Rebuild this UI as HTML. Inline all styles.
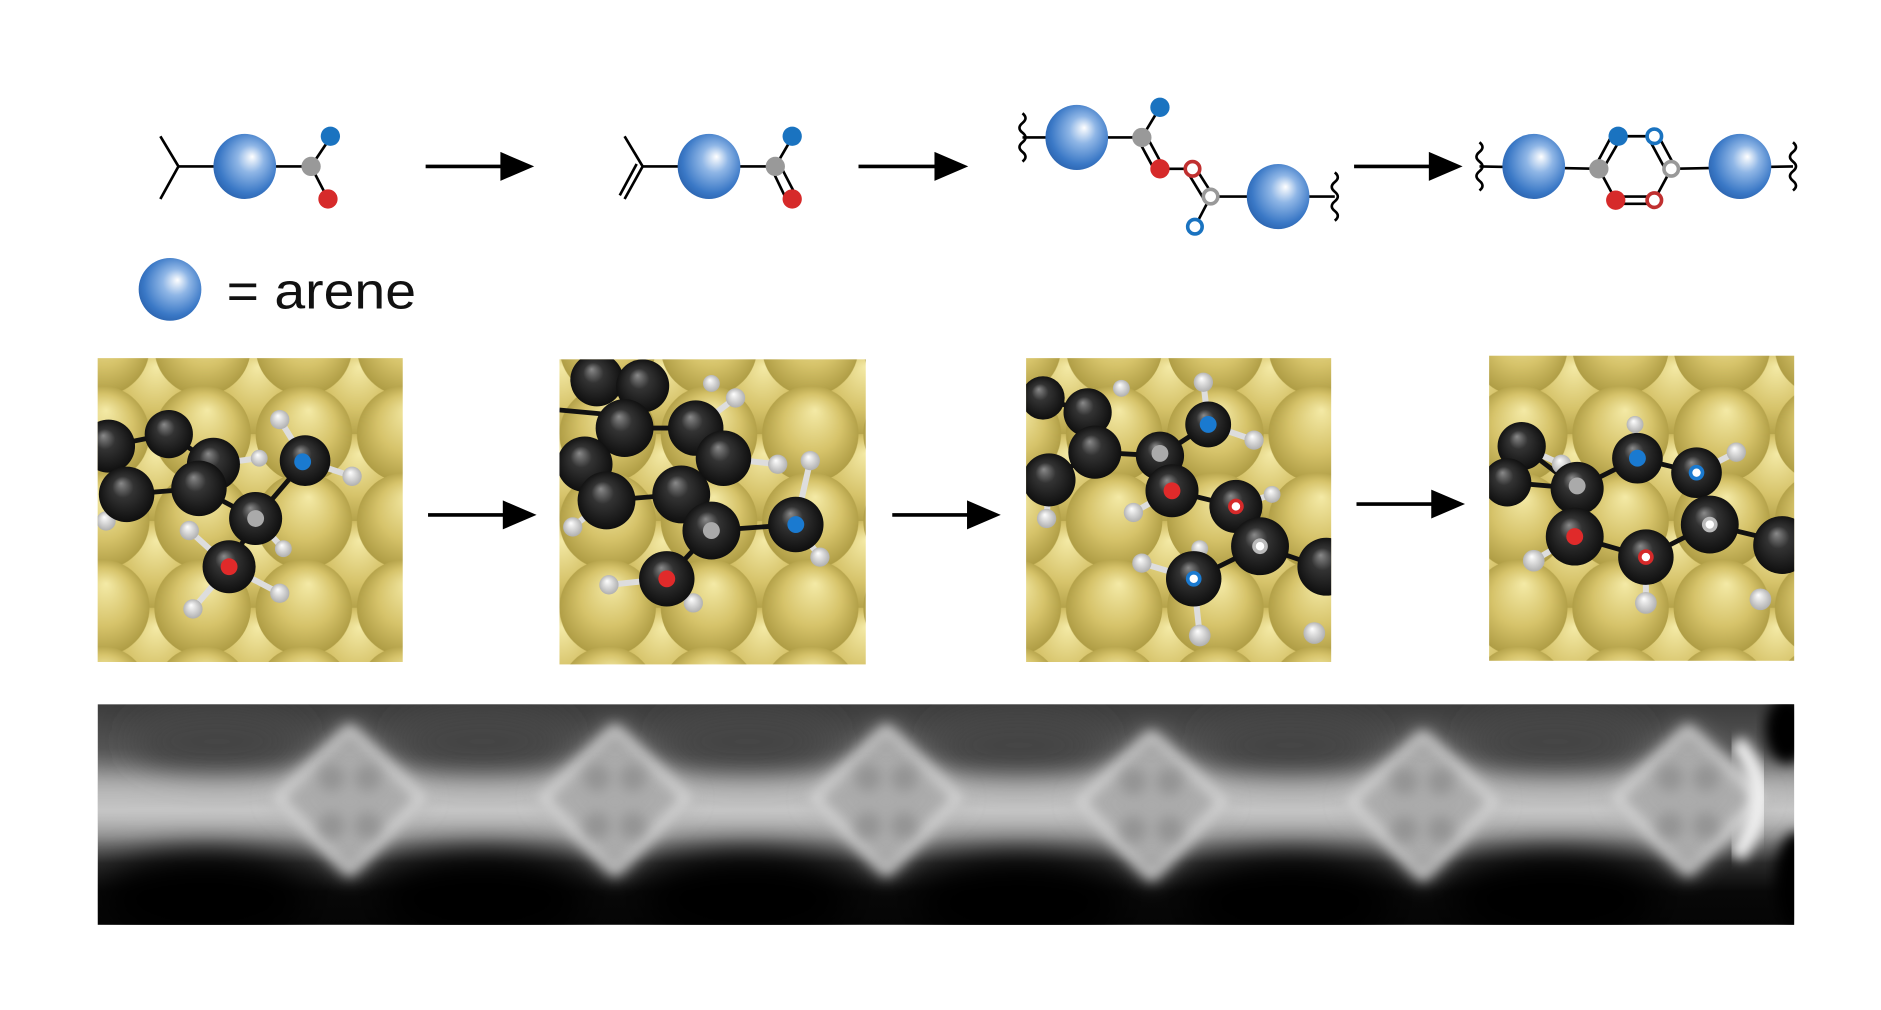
<!DOCTYPE html>
<html><head><meta charset="utf-8"><style>
html,body{margin:0;padding:0;background:#fff;}
svg{display:block;}
</style></head><body>
<svg width="1881" height="1010" viewBox="0 0 1560 837.6" preserveAspectRatio="none" xmlns="http://www.w3.org/2000/svg">
<defs>
<radialGradient id="ar" cx="0.55" cy="0.45" r="0.6" fx="0.62" fy="0.35">
<stop offset="0" stop-color="#ffffff"/><stop offset="0.35" stop-color="#8fb6e6"/><stop offset="0.8" stop-color="#3a78c6"/><stop offset="1" stop-color="#2a62ad"/></radialGradient>
<radialGradient id="bk" cx="0.5" cy="0.5" r="0.55" fx="0.4" fy="0.3">
<stop offset="0" stop-color="#8a8a8a"/><stop offset="0.35" stop-color="#333"/><stop offset="1" stop-color="#0a0a0a"/></radialGradient>
<radialGradient id="hh" cx="0.5" cy="0.5" r="0.55" fx="0.4" fy="0.3">
<stop offset="0" stop-color="#fff"/><stop offset="1" stop-color="#aaa"/></radialGradient>
<radialGradient id="au" cx="0.5" cy="0.5" r="0.55" fx="0.55" fy="0.25">
<stop offset="0" stop-color="#f4eaa6"/><stop offset="0.55" stop-color="#d6c36a"/><stop offset="1" stop-color="#a8963e"/></radialGradient>
<pattern id="gold" width="84" height="72" patternUnits="userSpaceOnUse">
<rect width="84" height="72" fill="#b09e48"/>
<circle cx="42" cy="36" r="40" fill="url(#au)"/>
<circle cx="0" cy="0" r="40" fill="url(#au)"/><circle cx="84" cy="0" r="40" fill="url(#au)"/>
<circle cx="0" cy="72" r="40" fill="url(#au)"/><circle cx="84" cy="72" r="40" fill="url(#au)"/>
</pattern>
<linearGradient id="stm" x1="0" y1="0" x2="0" y2="1">
<stop offset="0" stop-color="#3c3c3c"/><stop offset="0.2" stop-color="#555"/><stop offset="0.33" stop-color="#8a8a8a"/><stop offset="0.48" stop-color="#c4c4c4"/><stop offset="0.6" stop-color="#8a8a8a"/><stop offset="0.72" stop-color="#2a2a2a"/><stop offset="0.85" stop-color="#080808"/><stop offset="1" stop-color="#050505"/></linearGradient>
<filter id="bl" x="-20%" y="-50%" width="140%" height="200%"><feGaussianBlur stdDeviation="9"/></filter>
<filter id="bl2" x="-20%" y="-50%" width="140%" height="200%"><feGaussianBlur stdDeviation="5"/></filter>
<filter id="bl3" x="-30%" y="-80%" width="160%" height="260%"><feGaussianBlur stdDeviation="14"/></filter>
<clipPath id="stmc"><rect x="81" y="584" width="1407" height="183"/></clipPath>
<clipPath id="c1"><rect x="81" y="297" width="253" height="252"/></clipPath>
<clipPath id="c2"><rect x="464" y="298" width="254" height="253"/></clipPath>
<clipPath id="c3"><rect x="851" y="297" width="253" height="252"/></clipPath>
<clipPath id="c4"><rect x="1235" y="295" width="253" height="253"/></clipPath>
</defs>

<g stroke="#000" stroke-width="3" fill="#000">
<line x1="353" y1="138" x2="420" y2="138"/><path d="M415,126 L443,138 L415,150 Z" stroke="none"/>
<line x1="712" y1="138" x2="780" y2="138"/><path d="M775,126 L803,138 L775,150 Z" stroke="none"/>
<line x1="1123" y1="138" x2="1190" y2="138"/><path d="M1185,126 L1213,138 L1185,150 Z" stroke="none"/>
<line x1="355" y1="427" x2="422" y2="427"/><path d="M417,415 L445,427 L417,439 Z" stroke="none"/>
<line x1="740" y1="427" x2="807" y2="427"/><path d="M802,415 L830,427 L802,439 Z" stroke="none"/>
<line x1="1125" y1="418" x2="1192" y2="418"/><path d="M1187,406 L1215,418 L1187,430 Z" stroke="none"/>
</g>

<g stroke="#000" stroke-width="2.2" fill="none">
<polyline points="133,113 148,138 133,165"/><line x1="148" y1="138" x2="258" y2="138"/>
<line x1="258" y1="138" x2="274" y2="114"/><line x1="258" y1="138" x2="272" y2="165"/>
</g>
<ellipse cx="203" cy="138" rx="26" ry="27" fill="url(#ar)"/>
<circle cx="258" cy="138" r="8" fill="#999"/><circle cx="274" cy="113" r="8" fill="#1a73c0"/><circle cx="272" cy="165" r="8" fill="#d62a2a"/>

<g stroke="#000" stroke-width="2.2" fill="none">
<polyline points="518,113 533,138 518,165"/><line x1="528" y1="136" x2="514" y2="162"/>
<line x1="533" y1="138" x2="643" y2="138"/>
<line x1="643" y1="138" x2="657" y2="114"/><line x1="640" y1="140" x2="652" y2="165"/><line x1="647" y1="137" x2="660" y2="162"/>
</g>
<ellipse cx="588" cy="138" rx="26" ry="27" fill="url(#ar)"/>
<circle cx="643" cy="138" r="8" fill="#999"/><circle cx="657" cy="113" r="8" fill="#1a73c0"/><circle cx="657" cy="165" r="8" fill="#d62a2a"/>

<g stroke="#000" stroke-width="2.2" fill="none">
<path d="M848,94 q5,4 0,8 q-5,4 0,8 q5,4 0,8 q-5,4 0,8 q5,4 0,8"/>
<line x1="848" y1="114" x2="947" y2="114"/>
<line x1="947" y1="114" x2="962" y2="89"/><line x1="944" y1="116" x2="957" y2="140"/><line x1="951" y1="113" x2="964" y2="137"/>
<line x1="962" y1="140" x2="989" y2="140"/>
<line x1="985" y1="143" x2="999" y2="166"/><line x1="992" y1="140" x2="1006" y2="162"/>
<line x1="1004" y1="163" x2="1107" y2="163"/><line x1="1004" y1="163" x2="991" y2="188"/>
<path d="M1107,143 q5,4 0,8 q-5,4 0,8 q5,4 0,8 q-5,4 0,8 q5,4 0,8"/>
</g>
<ellipse cx="893" cy="114" rx="26" ry="27" fill="url(#ar)"/>
<ellipse cx="1060" cy="163" rx="26" ry="27" fill="url(#ar)"/>
<circle cx="947" cy="114" r="8" fill="#999"/><circle cx="962" cy="89" r="8" fill="#1a73c0"/><circle cx="962" cy="140" r="8" fill="#d62a2a"/>
<circle cx="989" cy="140" r="6" fill="#fff" stroke="#c03030" stroke-width="3"/>
<circle cx="1004" cy="163" r="6" fill="#fff" stroke="#999" stroke-width="3"/>
<circle cx="991" cy="188" r="6" fill="#fff" stroke="#1a73c0" stroke-width="3"/>

<g stroke="#000" stroke-width="2.2" fill="none">
<path d="M1227,118 q5,4 0,8 q-5,4 0,8 q5,4 0,8 q-5,4 0,8 q5,4 0,8"/>
<line x1="1227" y1="138" x2="1326" y2="140"/>
<line x1="1323" y1="138" x2="1337" y2="112"/><line x1="1329" y1="141" x2="1344" y2="115"/>
<line x1="1342" y1="113" x2="1372" y2="113"/>
<line x1="1368" y1="116" x2="1382" y2="142"/><line x1="1375" y1="112" x2="1389" y2="138"/>
<line x1="1326" y1="140" x2="1340" y2="166"/>
<line x1="1340" y1="163" x2="1372" y2="163"/><line x1="1340" y1="169" x2="1372" y2="169"/>
<line x1="1372" y1="166" x2="1386" y2="140"/>
<line x1="1386" y1="140" x2="1487" y2="138"/>
<path d="M1487,118 q5,4 0,8 q-5,4 0,8 q5,4 0,8 q-5,4 0,8 q5,4 0,8"/>
</g>
<ellipse cx="1272" cy="138" rx="26" ry="27" fill="url(#ar)"/>
<ellipse cx="1443" cy="138" rx="26" ry="27" fill="url(#ar)"/>
<circle cx="1326" cy="140" r="8" fill="#999"/><circle cx="1342" cy="113" r="8" fill="#1a73c0"/><circle cx="1340" cy="166" r="8" fill="#d62a2a"/>
<circle cx="1372" cy="113" r="6" fill="#fff" stroke="#1a73c0" stroke-width="3"/>
<circle cx="1386" cy="140" r="6" fill="#fff" stroke="#999" stroke-width="3"/>
<circle cx="1372" cy="166" r="6" fill="#fff" stroke="#c03030" stroke-width="3"/>

<ellipse cx="141" cy="240" rx="26" ry="26" fill="url(#ar)"/>
<text x="188" y="256" font-family="Liberation Sans, sans-serif" font-size="42" fill="#111" textLength="157" lengthAdjust="spacingAndGlyphs">= arene</text>

<rect x="81" y="297" width="253" height="252" fill="url(#gold)"/>
<rect x="464" y="298" width="254" height="253" fill="url(#gold)"/>
<rect x="851" y="297" width="253" height="252" fill="url(#gold)"/>
<rect x="1235" y="295" width="253" height="253" fill="url(#gold)"/>

<g clip-path="url(#c1)">
<g stroke="#111" stroke-width="4">
<line x1="90" y1="370" x2="140" y2="360"/><line x1="140" y1="360" x2="177" y2="385"/><line x1="177" y1="385" x2="165" y2="405"/><line x1="105" y1="410" x2="165" y2="405"/><line x1="90" y1="370" x2="105" y2="410"/><line x1="165" y1="405" x2="212" y2="430"/><line x1="212" y1="430" x2="190" y2="470"/><line x1="212" y1="430" x2="253" y2="382"/>
</g>
<g stroke="#ddd" stroke-width="5">
<line x1="253" y1="382" x2="232" y2="348"/><line x1="253" y1="382" x2="292" y2="395"/><line x1="177" y1="385" x2="215" y2="380"/><line x1="190" y1="470" x2="160" y2="505"/><line x1="190" y1="470" x2="232" y2="492"/><line x1="190" y1="470" x2="157" y2="440"/><line x1="212" y1="430" x2="235" y2="455"/>
</g>
<g fill="url(#hh)"><circle cx="232" cy="348" r="8"/><circle cx="292" cy="395" r="8"/><circle cx="88" cy="432" r="8"/><circle cx="157" cy="440" r="8"/><circle cx="235" cy="455" r="7"/><circle cx="160" cy="505" r="8"/><circle cx="232" cy="492" r="8"/><circle cx="215" cy="380" r="7"/><circle cx="262" cy="370" r="6"/></g>
<g fill="url(#bk)"><circle cx="90" cy="370" r="22"/><circle cx="140" cy="360" r="20"/><circle cx="105" cy="410" r="23"/><circle cx="177" cy="385" r="22"/><circle cx="165" cy="405" r="23"/><circle cx="212" cy="430" r="22"/><circle cx="190" cy="470" r="22"/><circle cx="253" cy="382" r="21"/></g>
<circle cx="212" cy="430" r="7" fill="#aaa"/><circle cx="190" cy="470" r="7" fill="#e02a2a"/><circle cx="251" cy="383" r="7" fill="#1a7ad0"/>
</g>

<g clip-path="url(#c2)">
<g stroke="#111" stroke-width="4">
<line x1="503" y1="415" x2="565" y2="410"/><line x1="565" y1="410" x2="590" y2="440"/><line x1="590" y1="440" x2="660" y2="435"/><line x1="590" y1="440" x2="553" y2="480"/><line x1="565" y1="410" x2="600" y2="380"/><line x1="485" y1="385" x2="503" y2="415"/><line x1="518" y1="355" x2="577" y2="355"/><line x1="464" y1="340" x2="518" y2="345"/>
</g>
<g stroke="#ddd" stroke-width="5">
<line x1="600" y1="380" x2="645" y2="385"/><line x1="660" y1="435" x2="672" y2="382"/><line x1="660" y1="435" x2="680" y2="462"/><line x1="553" y1="480" x2="505" y2="485"/><line x1="553" y1="480" x2="575" y2="500"/><line x1="503" y1="415" x2="475" y2="437"/><line x1="577" y1="355" x2="610" y2="330"/>
</g>
<g fill="url(#hh)"><circle cx="610" cy="330" r="8"/><circle cx="645" cy="385" r="8"/><circle cx="672" cy="382" r="8"/><circle cx="475" cy="437" r="8"/><circle cx="505" cy="485" r="8"/><circle cx="575" cy="500" r="8"/><circle cx="680" cy="462" r="8"/><circle cx="590" cy="318" r="7"/></g>
<g fill="url(#bk)"><circle cx="495" cy="315" r="22"/><circle cx="533" cy="320" r="22"/><circle cx="518" cy="355" r="24"/><circle cx="577" cy="355" r="23"/><circle cx="485" cy="385" r="23"/><circle cx="600" cy="380" r="23"/><circle cx="503" cy="415" r="24"/><circle cx="565" cy="410" r="24"/><circle cx="590" cy="440" r="24"/><circle cx="660" cy="435" r="23"/><circle cx="553" cy="480" r="23"/></g>
<circle cx="590" cy="440" r="7" fill="#aaa"/><circle cx="660" cy="435" r="7" fill="#1a7ad0"/><circle cx="553" cy="480" r="7" fill="#e02a2a"/>
</g>

<g clip-path="url(#c3)">
<g stroke="#111" stroke-width="4">
<line x1="865" y1="330" x2="902" y2="342"/><line x1="902" y1="342" x2="908" y2="375"/><line x1="908" y1="375" x2="870" y2="398"/><line x1="908" y1="375" x2="962" y2="378"/><line x1="962" y1="378" x2="1002" y2="352"/><line x1="962" y1="378" x2="972" y2="407"/><line x1="972" y1="407" x2="1025" y2="420"/><line x1="1025" y1="420" x2="1045" y2="453"/><line x1="1045" y1="453" x2="990" y2="480"/><line x1="1045" y1="453" x2="1095" y2="470"/>
</g>
<g stroke="#ddd" stroke-width="5">
<line x1="1002" y1="352" x2="998" y2="317"/><line x1="1002" y1="352" x2="1040" y2="365"/><line x1="972" y1="407" x2="940" y2="425"/><line x1="990" y1="480" x2="947" y2="467"/><line x1="990" y1="480" x2="995" y2="527"/><line x1="1025" y1="420" x2="1055" y2="410"/><line x1="870" y1="398" x2="868" y2="430"/>
</g>
<g fill="url(#hh)"><circle cx="998" cy="317" r="8"/><circle cx="1040" cy="365" r="8"/><circle cx="930" cy="322" r="7"/><circle cx="868" cy="430" r="8"/><circle cx="940" cy="425" r="8"/><circle cx="1055" cy="410" r="7"/><circle cx="947" cy="467" r="8"/><circle cx="995" cy="527" r="9"/><circle cx="1090" cy="525" r="9"/><circle cx="995" cy="455" r="7"/></g>
<g fill="url(#bk)"><circle cx="865" cy="330" r="18"/><circle cx="902" cy="342" r="20"/><circle cx="908" cy="375" r="22"/><circle cx="870" cy="398" r="22"/><circle cx="962" cy="378" r="20"/><circle cx="1002" cy="352" r="19"/><circle cx="972" cy="407" r="22"/><circle cx="1025" cy="420" r="22"/><circle cx="1045" cy="453" r="24"/><circle cx="990" cy="480" r="23"/><circle cx="1100" cy="470" r="24"/></g>
<circle cx="962" cy="376" r="7" fill="#aaa"/><circle cx="1002" cy="352" r="7" fill="#1a7ad0"/><circle cx="972" cy="407" r="7" fill="#e02a2a"/>
<circle cx="1025" cy="420" r="5" fill="#fff" stroke="#d62a2a" stroke-width="3"/>
<circle cx="1045" cy="453" r="5" fill="#fff" stroke="#bbb" stroke-width="3"/>
<circle cx="990" cy="480" r="5" fill="#fff" stroke="#1a7ad0" stroke-width="3"/>
</g>

<g clip-path="url(#c4)">
<g stroke="#111" stroke-width="4">
<line x1="1262" y1="370" x2="1308" y2="405"/><line x1="1250" y1="400" x2="1308" y2="405"/><line x1="1308" y1="405" x2="1358" y2="380"/><line x1="1358" y1="380" x2="1407" y2="392"/><line x1="1407" y1="392" x2="1418" y2="435"/><line x1="1308" y1="405" x2="1306" y2="445"/><line x1="1306" y1="445" x2="1365" y2="462"/><line x1="1365" y1="462" x2="1418" y2="435"/><line x1="1418" y1="435" x2="1480" y2="450"/>
</g>
<g stroke="#ddd" stroke-width="5">
<line x1="1358" y1="380" x2="1356" y2="352"/><line x1="1407" y1="392" x2="1440" y2="375"/><line x1="1306" y1="445" x2="1272" y2="465"/><line x1="1365" y1="462" x2="1365" y2="500"/><line x1="1262" y1="370" x2="1295" y2="385"/>
</g>
<g fill="url(#hh)"><circle cx="1295" cy="385" r="8"/><circle cx="1356" cy="352" r="7"/><circle cx="1440" cy="375" r="8"/><circle cx="1272" cy="465" r="9"/><circle cx="1365" cy="500" r="9"/><circle cx="1460" cy="497" r="9"/></g>
<g fill="url(#bk)"><circle cx="1262" cy="370" r="20"/><circle cx="1250" cy="400" r="20"/><circle cx="1308" cy="405" r="22"/><circle cx="1358" cy="380" r="21"/><circle cx="1407" cy="392" r="21"/><circle cx="1306" cy="445" r="24"/><circle cx="1365" cy="462" r="23"/><circle cx="1418" cy="435" r="24"/><circle cx="1478" cy="452" r="24"/></g>
<circle cx="1308" cy="403" r="7" fill="#aaa"/><circle cx="1358" cy="380" r="7" fill="#1a7ad0"/><circle cx="1306" cy="445" r="7" fill="#e02a2a"/>
<circle cx="1407" cy="392" r="5" fill="#fff" stroke="#1a7ad0" stroke-width="3"/>
<circle cx="1365" cy="462" r="5" fill="#fff" stroke="#d62a2a" stroke-width="3"/>
<circle cx="1418" cy="435" r="5" fill="#fff" stroke="#bbb" stroke-width="3"/>
</g>

<!-- STM -->
<g clip-path="url(#stmc)">
<rect x="81" y="584" width="1407" height="183" fill="url(#stm)"/>
<g fill="#444" filter="url(#bl3)">
<ellipse cx="180" cy="615" rx="70" ry="28"/><ellipse cx="400" cy="615" rx="70" ry="28"/><ellipse cx="620" cy="615" rx="70" ry="28"/><ellipse cx="845" cy="618" rx="70" ry="28"/><ellipse cx="1070" cy="618" rx="70" ry="28"/><ellipse cx="1290" cy="615" rx="70" ry="28"/>
</g>
<g fill="#030303" filter="url(#bl3)">
<ellipse cx="170" cy="745" rx="85" ry="38"/><ellipse cx="400" cy="745" rx="85" ry="38"/><ellipse cx="620" cy="745" rx="85" ry="38"/><ellipse cx="845" cy="748" rx="85" ry="38"/><ellipse cx="1070" cy="748" rx="85" ry="38"/><ellipse cx="1290" cy="745" rx="85" ry="38"/>
</g>
<path d="M60,645 L1500,645 L1500,685 L60,685 Z" fill="#c6c6c6" filter="url(#bl)" opacity="0.6"/>
<g fill="#ababab" filter="url(#bl)">
<path d="M290,600 L355,662 L290,728 L225,662 Z"/>
<path d="M510,600 L575,662 L510,728 L445,662 Z"/>
<path d="M735,600 L800,662 L735,728 L670,662 Z"/>
<path d="M955,605 L1020,665 L955,732 L890,665 Z"/>
<path d="M1180,605 L1245,665 L1180,732 L1115,665 Z"/>
<path d="M1400,600 L1465,662 L1400,728 L1335,662 Z"/>
</g>
<g fill="none" stroke="#dcdcdc" stroke-width="7" filter="url(#bl2)" opacity="0.85">
<path d="M290,605 L350,662 L290,722 L230,662 Z"/>
<path d="M510,605 L570,662 L510,722 L450,662 Z"/>
<path d="M735,605 L795,662 L735,722 L675,662 Z"/>
<path d="M955,610 L1015,665 L955,726 L895,665 Z"/>
<path d="M1180,610 L1240,665 L1180,726 L1120,665 Z"/>
<path d="M1400,605 L1460,662 L1400,722 L1340,662 Z"/>
</g>
<g fill="#8e8e8e" filter="url(#bl2)" opacity="0.8">
<circle cx="275" cy="645" r="11"/><circle cx="305" cy="645" r="11"/><circle cx="275" cy="685" r="11"/><circle cx="305" cy="685" r="11"/>
<circle cx="495" cy="645" r="11"/><circle cx="525" cy="645" r="11"/><circle cx="495" cy="685" r="11"/><circle cx="525" cy="685" r="11"/>
<circle cx="720" cy="645" r="11"/><circle cx="750" cy="645" r="11"/><circle cx="720" cy="685" r="11"/><circle cx="750" cy="685" r="11"/>
<circle cx="940" cy="648" r="11"/><circle cx="970" cy="648" r="11"/><circle cx="940" cy="688" r="11"/><circle cx="970" cy="688" r="11"/>
<circle cx="1165" cy="648" r="11"/><circle cx="1195" cy="648" r="11"/><circle cx="1165" cy="688" r="11"/><circle cx="1195" cy="688" r="11"/>
<circle cx="1385" cy="645" r="11"/><circle cx="1415" cy="645" r="11"/><circle cx="1385" cy="685" r="11"/><circle cx="1415" cy="685" r="11"/>
</g>
<path d="M1440,615 Q1478,660 1440,710" fill="none" stroke="#f2f2f2" stroke-width="14" filter="url(#bl2)"/>
<ellipse cx="1482" cy="605" rx="18" ry="28" fill="#000" filter="url(#bl2)"/>
<ellipse cx="1490" cy="730" rx="18" ry="40" fill="#000" filter="url(#bl2)"/>
</g>
</svg>
</body></html>
